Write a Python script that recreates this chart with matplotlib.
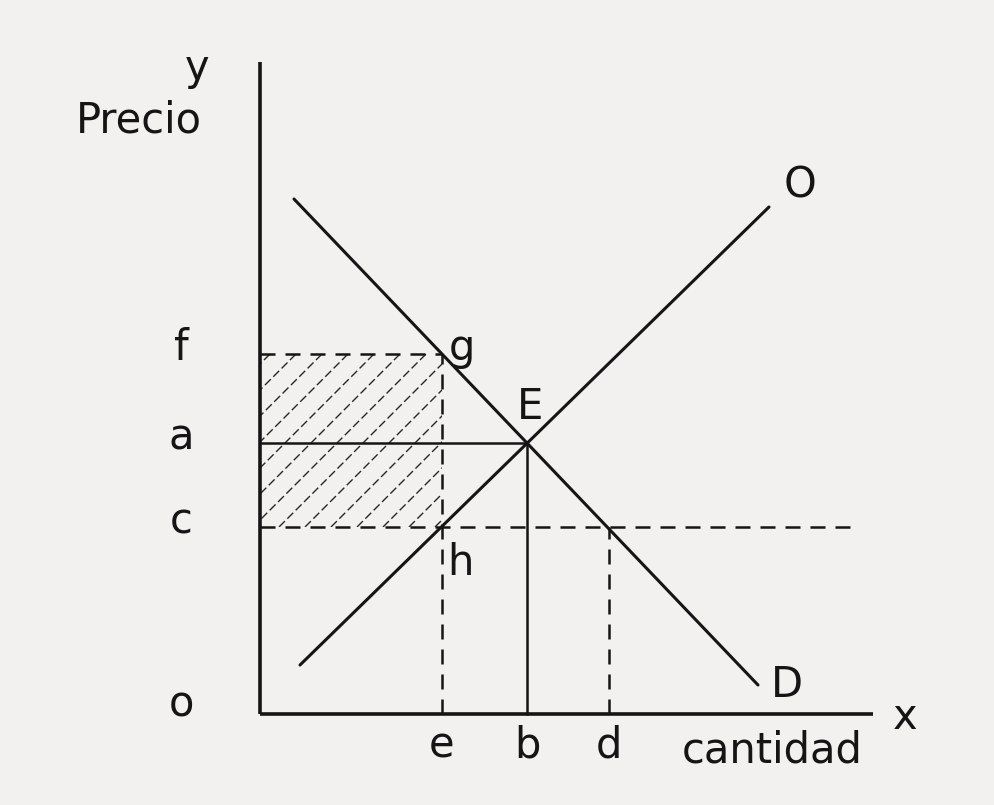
import matplotlib
matplotlib.use("Agg")
from matplotlib import pyplot as plt
from matplotlib.patches import Rectangle

# valores (cantidad, precio)
cantidades = {"e": 18.2, "b": 26.7, "d": 34.9}
precios = {"f": 36.0, "a": 27.1, "c": 18.7}

demanda_x = [3.4, 49.8]
demanda_y = [51.5, 2.9]
oferta_x = [4.0, 50.9]
oferta_y = [4.9, 50.7]

eje_x_max = 61.3
eje_y_max = 65.2
fin_linea_c = 59.0

tinta = "#161414"
fondo = "#f3f1f0"

fig = plt.figure(figsize=(9.94, 8.05), dpi=100, facecolor=fondo)
ax = fig.add_axes([0, 0, 1, 1])
ax.set_facecolor(fondo)
ax.set_xlim(-26.0, 73.4)
ax.set_ylim(-9.1, 71.4)
ax.axis("off")

e, b, d = cantidades["e"], cantidades["b"], cantidades["d"]
f, a, c = precios["f"], precios["a"], precios["c"]

lw = 2.2
dash = (0, (6, 4))

# area rayada (lineas a 45 grados recortadas al rectangulo)
zona = Rectangle((0, c), e, f - c, fill=False, lw=0)
ax.add_patch(zona)
alto = f - c
paso = 2.6
x0 = -alto + 1.0
while x0 < e:
    ln, = ax.plot([x0, x0 + alto], [c, f], color="#2a2727", lw=1.0,
                  linestyle=(0, (6, 2.5)))
    ln.set_clip_path(zona)
    x0 += paso

# ejes
ax.plot([0, 0], [0, eje_y_max], color=tinta, lw=2.6, solid_capstyle="butt")
ax.plot([0, eje_x_max], [0, 0], color=tinta, lw=2.6, solid_capstyle="butt")

# curvas de oferta y demanda
ax.plot(demanda_x, demanda_y, color=tinta, lw=lw, solid_capstyle="round")
ax.plot(oferta_x, oferta_y, color=tinta, lw=lw, solid_capstyle="round")

# lineas auxiliares
ax.plot([0, e], [f, f], color=tinta, lw=1.8, linestyle=dash)
ax.plot([0, b], [a, a], color=tinta, lw=1.8)
ax.plot([0, fin_linea_c], [c, c], color=tinta, lw=1.8, linestyle=dash)
ax.plot([e, e], [0, f], color=tinta, lw=1.8, linestyle=dash)
ax.plot([b, b], [0, a], color=tinta, lw=1.8)
ax.plot([d, d], [0, c], color=tinta, lw=1.8, linestyle=dash)

fs = 30
txt = dict(color=tinta, fontsize=fs, ha="center", va="center")

ax.text(-6.3, 64.6, "y", **txt)
ax.text(-12.1, 59.4, "Precio", **txt)
for letra, valor in precios.items():
    ax.text(-7.9, valor + 0.6, letra, **txt)
ax.text(-7.9, 1.0, "o", **txt)
for letra, valor in cantidades.items():
    ax.text(valor, -3.1, letra, **txt)
ax.text(64.5, -0.3, "x", **txt)
ax.text(51.2, -3.6, "cantidad", **txt)
ax.text(52.7, 2.9, "D", **txt)
ax.text(54.0, 52.9, "O", **txt)
ax.text(b + 0.3, a + 3.6, "E", **txt)
ax.text(e + 2.0, f + 0.6, "g", **txt)
ax.text(e + 1.8, c - 3.6, "h", **txt)

fig.savefig("out.png", dpi=100, facecolor=fondo)
